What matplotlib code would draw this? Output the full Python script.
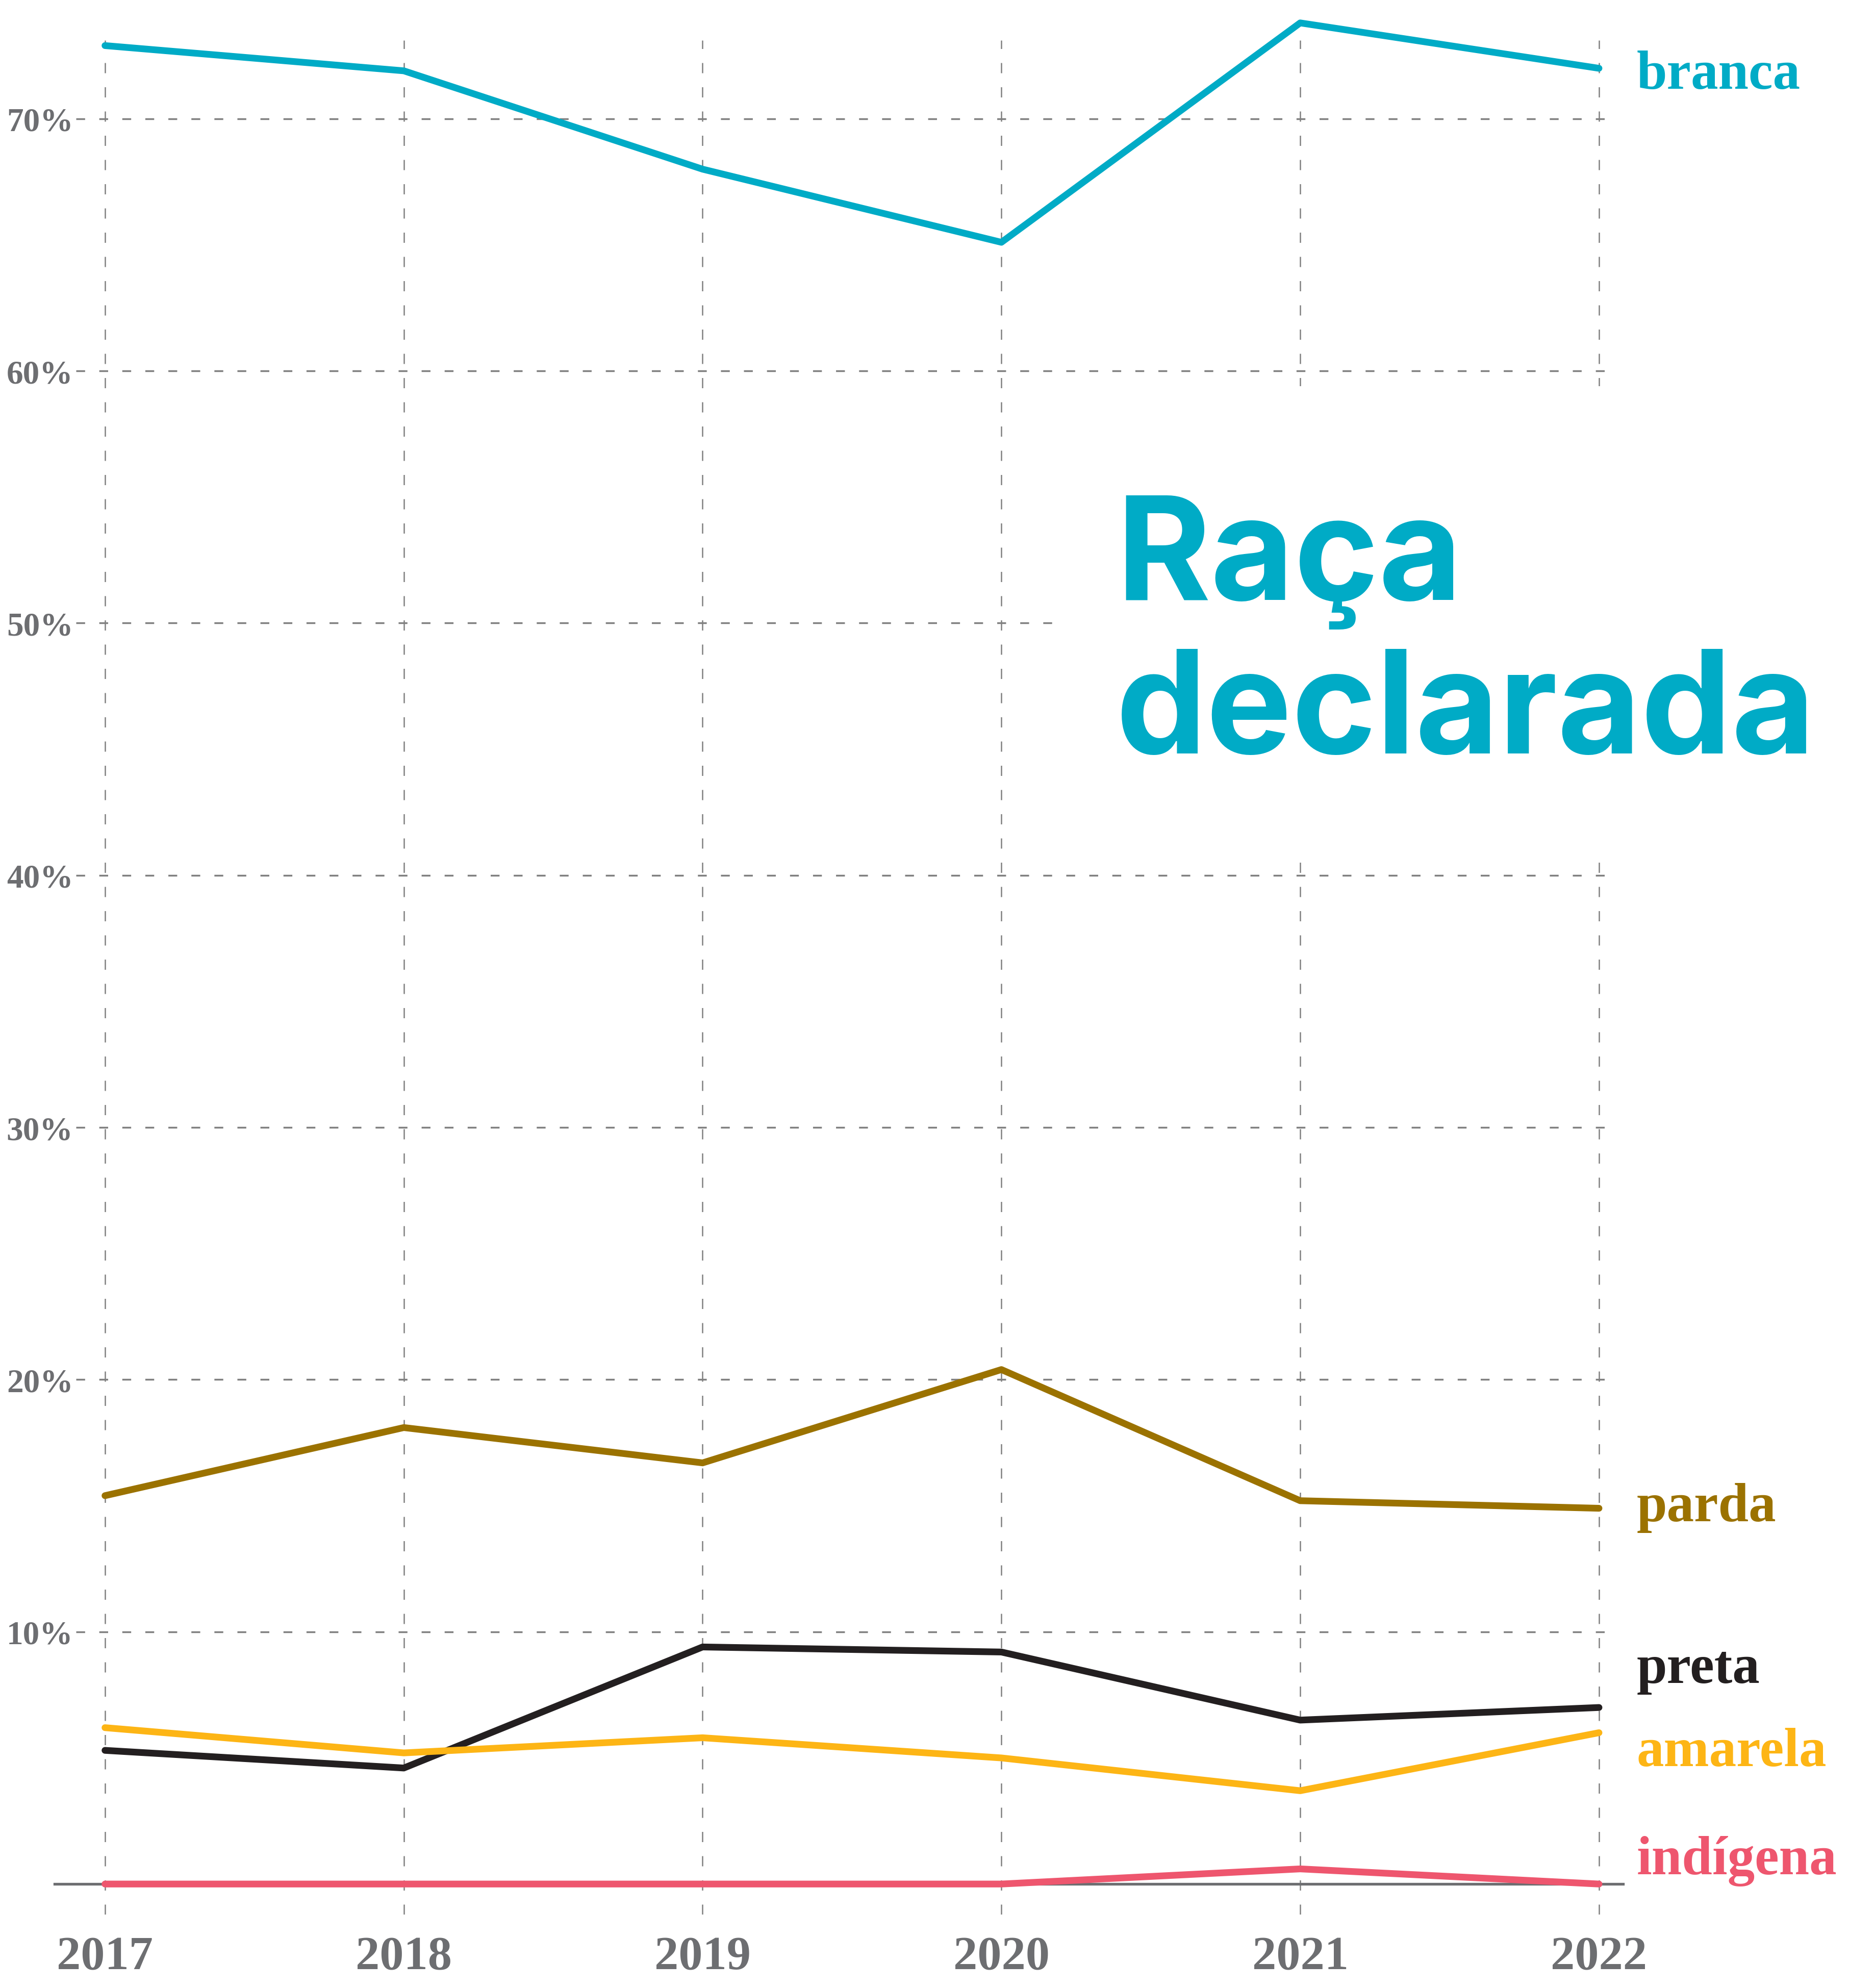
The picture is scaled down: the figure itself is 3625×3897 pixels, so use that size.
import matplotlib
matplotlib.use("Agg")
import matplotlib.pyplot as plt
from matplotlib.patches import Rectangle

# dados (percentual por raça declarada)
anos = [2017, 2018, 2019, 2020, 2021, 2022]
branca = [72.9, 71.9, 68.0, 65.1, 73.8, 72.0]
parda = [15.4, 18.1, 16.7, 20.4, 15.2, 14.9]
preta = [5.3, 4.6, 9.4, 9.2, 6.5, 7.0]
amarela = [6.2, 5.2, 5.8, 5.0, 3.7, 6.0]
indigena = [0.0, 0.0, 0.0, 0.0, 0.6, 0.0]
y_ticks = [10, 20, 30, 40, 50, 60, 70]

series = [
    ("branca", branca, "#00abc6", 71.2),
    ("parda", parda, "#9b7200", 14.4),
    ("preta", preta, "#231f20", 8.0),
    ("amarela", amarela, "#fdb515", 4.7),
    ("indígena", indigena, "#ee566e", 0.4),
]

W, H = 3625, 3898
fig = plt.figure(figsize=(W / 100, H / 100), dpi=100)
fig.patch.set_facecolor("white")

# eixo posicionado em pixels da imagem
left_px, right_px, top_px, bottom_px = 149, 3170, 80, 3754
ax = fig.add_axes([left_px / W, (H - bottom_px) / H,
                   (right_px - left_px) / W, (bottom_px - top_px) / H])
ax.set_xlim(2016.903, 2022.06)
ax.set_ylim(-1.21, 73.11)

for s in ax.spines.values():
    s.set_visible(False)

grid_c = "#808080"
ax.set_yticks(y_ticks)
ax.set_yticklabels([f"{v}%" for v in y_ticks])
ax.set_xticks(anos)
ax.set_xticklabels([str(a) for a in anos])
ax.grid(axis="y", color=grid_c, linewidth=2.5, linestyle=(0, (5, 8)))
ax.grid(axis="x", color=grid_c, linewidth=1.8, linestyle=(0, (8, 11)))
ax.tick_params(length=0)
ax.tick_params(axis="y", pad=4)
ax.tick_params(axis="x", pad=30)

serif = ["Liberation Serif", "DejaVu Serif"]
for lab in ax.get_yticklabels():
    lab.set_fontfamily(serif)
    lab.set_fontweight("bold")
    lab.set_fontsize(47)
    lab.set_color("#6d6e71")
for lab in ax.get_xticklabels():
    lab.set_fontfamily(serif)
    lab.set_fontweight("bold")
    lab.set_fontsize(68)
    lab.set_color("#6d6e71")

# linha de base
ax.axhline(0, xmin=-0.014, xmax=1.004, color="#6d6e71", linewidth=3.8,
           clip_on=False, zorder=1.9)

# área branca atrás do título
ax.add_patch(Rectangle((2088 / W, (H - 1666) / H), 1 - 2088 / W, (1666 - 758) / H,
                       transform=fig.transFigure, facecolor="white",
                       edgecolor="none", zorder=1.8, clip_on=False))

for nome, vals, cor, ylab in series:
    ax.plot(anos, vals, color=cor, linewidth=9.5, solid_capstyle="round",
            solid_joinstyle="round", clip_on=False, zorder=3)
    ax.annotate(nome, xy=(anos[-1], ylab), xytext=(53, 0),
                textcoords="offset points", va="baseline", ha="left",
                fontsize=77, fontweight="bold", family=serif, color=cor,
                annotation_clip=False)

# título
fig.text(2188 / W, (H - 1176) / H, "Raça", fontsize=203, fontweight="bold",
         family=["Inter", "DejaVu Sans"], color="#00abc6", va="baseline", ha="left")
fig.text(2188 / W, (H - 1477) / H, "declarada", fontsize=203, fontweight="bold",
         family=["Inter", "DejaVu Sans"], color="#00abc6", va="baseline", ha="left")

fig.savefig("out.png", dpi=100)
